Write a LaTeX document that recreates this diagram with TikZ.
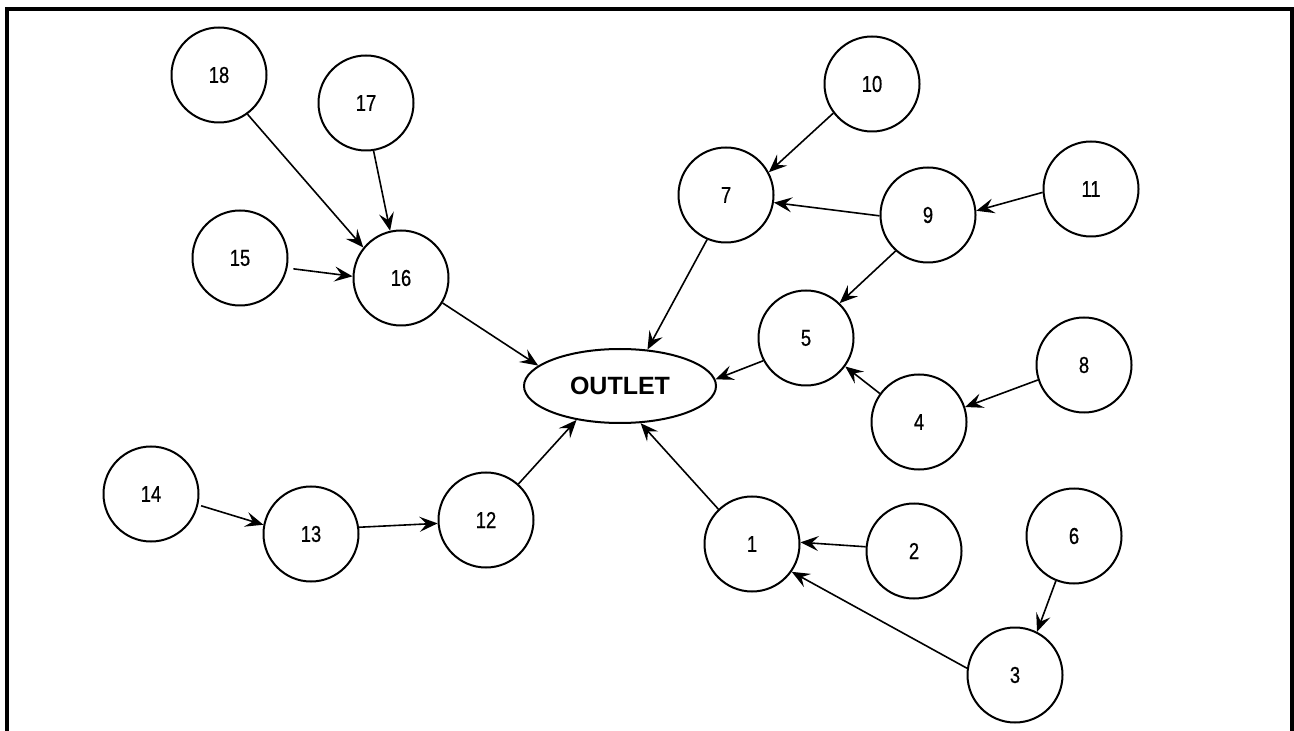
\documentclass[tikz,border=0pt]{standalone}
\usepackage{fontspec}
\setmainfont{Liberation Sans}
\newfontfamily\numfont[FakeStretch=0.8,FakeBold=0.6]{Liberation Sans}
\usetikzlibrary{arrows.meta,shapes.geometric}

\begin{document}
\begin{tikzpicture}[x=0.5pt,y=-0.5pt,
  basin/.style={circle,draw,line width=1pt,minimum size=47.5pt,inner sep=0pt,
    font=\numfont\fontsize{11.5}{13}\selectfont},
  outletnode/.style={ellipse,draw,line width=1pt,minimum width=96pt,
    minimum height=37pt,inner sep=0pt,font=\bfseries\fontsize{12.5}{14}\selectfont},
  flow/.style={line width=0.8pt,-{Stealth[length=9pt,width=7.5pt,inset=3.5pt]}},
  frameline/.style={line width=1.6pt}]

\useasboundingbox (0,0) rectangle (1294,731);

% open frame (no bottom edge)
\draw[frameline] (7,731) -- (7,9) -- (1292,9) -- (1292,731);

% outlet
\node[outletnode] (out) at (620,386) {OUTLET};

% sub-basins
\node[basin] (n18) at (219,75)  {18};
\node[basin] (n17) at (366,103) {17};
\node[basin] (n15) at (240,258) {15};
\node[basin] (n16) at (401,278) {16};
\node[basin] (n10) at (872,84)  {10};
\node[basin] (n7)  at (726,195) {7};
\node[basin] (n9)  at (928,215) {9};
\node[basin] (n11) at (1091,189) {11};
\node[basin] (n5)  at (806,338) {5};
\node[basin] (n8)  at (1084,365) {8};
\node[basin] (n4)  at (919,422) {4};
\node[basin] (n1)  at (752,544) {1};
\node[basin] (n2)  at (914,551) {2};
\node[basin] (n6)  at (1074,536) {6};
\node[basin] (n3)  at (1015,675) {3};
\node[basin] (n14) at (151,494) {14};
\node[basin] (n13) at (311,534) {13};
\node[basin] (n12) at (486,520) {12};

% flow connections
\draw[flow] (n18.-54) -- (n16.141);
\draw[flow] (n17.-81) -- (n16.103);
\draw[flow,shorten <=3pt] (n15.-12) -- (n16.178);
\draw[flow] (n16.-31) -- (out.166);

\draw[flow] (n10.-143) -- (n7.28);
\draw[flow] (n9.181) -- (n7.-9);
\draw[flow] (n11.184) -- (n9.5);
\draw[flow] (n9.-132) -- (n5.46);
\draw[flow] (n7.-113) -- (out.53);
\draw[flow] (n5.208) -- (out.4);
\draw[flow] (n4.144) -- (n5.-36);
\draw[flow] (n8.198) -- (n4.18);

\draw[flow,shorten <=1.5pt] (n14.-13) -- (n13.169);
\draw[flow] (n13.8) -- (n12.184);
\draw[flow] (n12.48) -- (out.218);

\draw[flow] (n1.134) -- (out.-61);
\draw[flow] (n2.175) -- (n1.2);
\draw[flow] (n3.172) -- (n1.-35);
\draw[flow] (n6.-112) -- (n3.63);

\end{tikzpicture}
\end{document}
